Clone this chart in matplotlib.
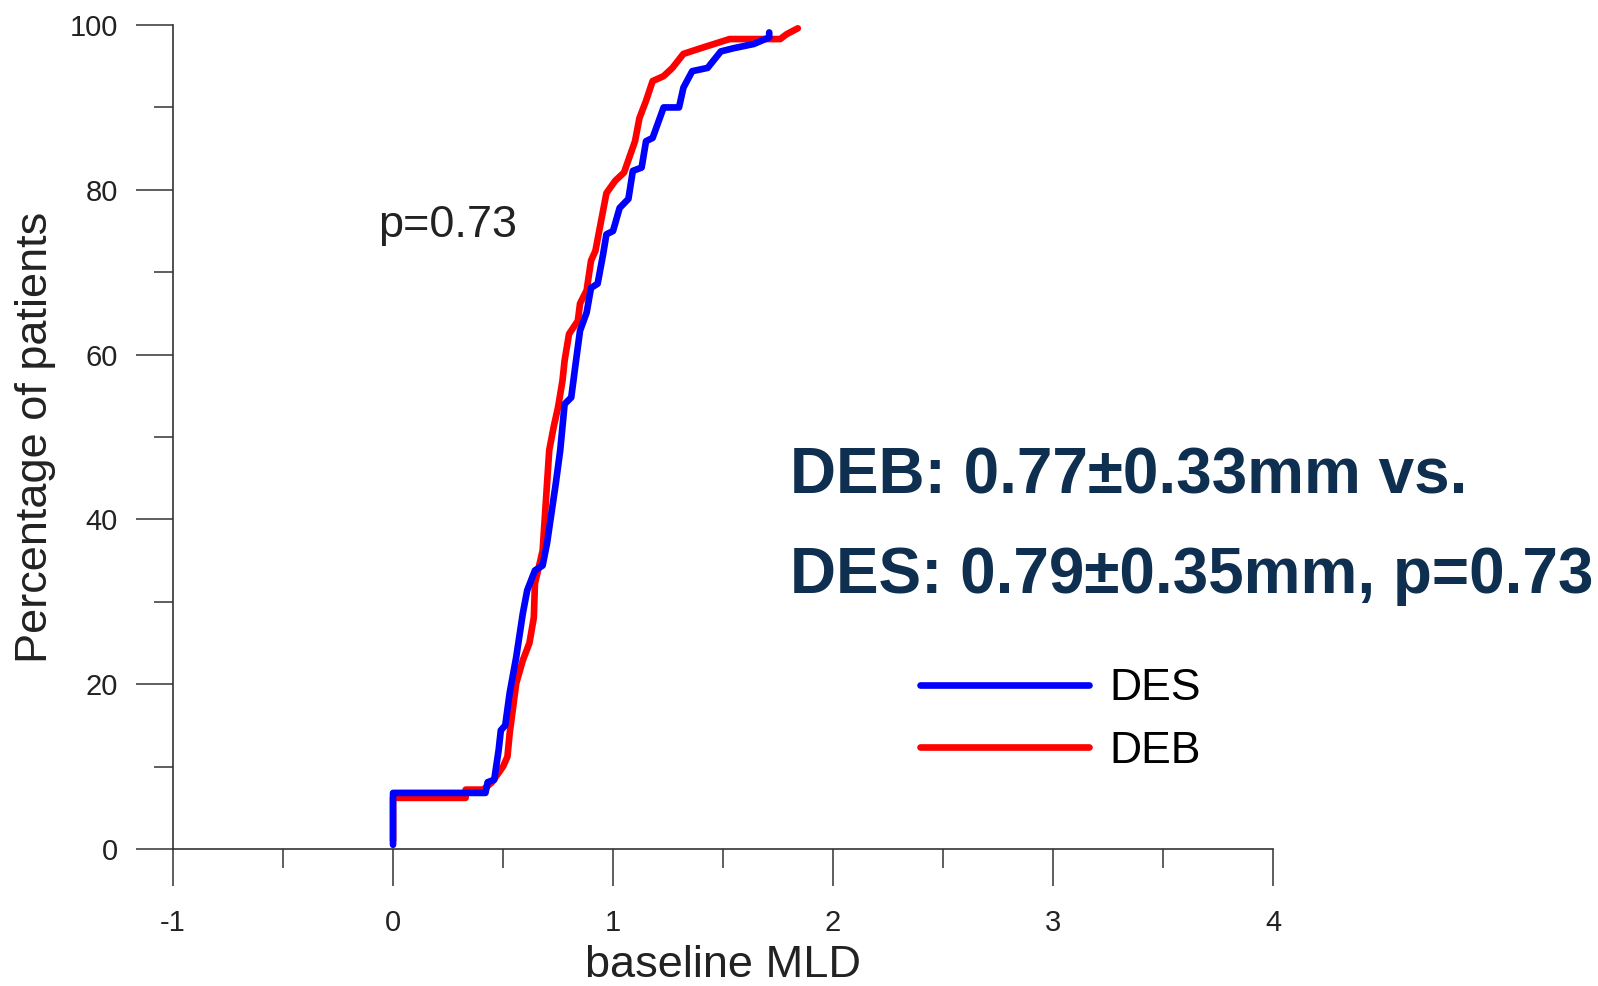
import matplotlib
matplotlib.use("Agg")
import matplotlib.pyplot as plt
from matplotlib.ticker import MultipleLocator

plt.rcParams["font.family"] = ["Liberation Sans", "DejaVu Sans"]
plt.rcParams["axes.unicode_minus"] = False

# -------- Data (cumulative curves of baseline MLD)
des_x = [0, 0, 0.42, 0.43, 0.46, 0.48, 0.49, 0.51, 0.53, 0.56, 0.59, 0.61, 0.645,
         0.68, 0.70, 0.74, 0.76, 0.78, 0.81, 0.83, 0.85, 0.88, 0.90, 0.93, 0.955,
         0.97, 1.00, 1.03, 1.07, 1.09, 1.13, 1.15, 1.18, 1.23, 1.30, 1.32, 1.36,
         1.43, 1.49, 1.55, 1.64, 1.71, 1.71]
des_y = [0.5, 6.8, 6.8, 8.1, 8.4, 12, 14.4, 15, 18.9, 23.3, 28.6, 31.4, 33.8,
         34.4, 37.1, 44.4, 48.4, 54, 54.8, 58.9, 62.9, 65.1, 68.1, 68.6, 72.2,
         74.6, 75, 77.8, 78.9, 82.3, 82.7, 85.9, 86.3, 90, 90, 92.4, 94.4,
         94.8, 96.8, 97.2, 97.7, 98.5, 99.1]

deb_x = [0, 0, 0.33, 0.33, 0.41, 0.45, 0.50, 0.52, 0.53, 0.56, 0.59, 0.62, 0.64,
         0.645, 0.68, 0.71, 0.73, 0.75, 0.77, 0.78, 0.80, 0.84, 0.85, 0.88, 0.90,
         0.92, 0.94, 0.97, 1.01, 1.05, 1.10, 1.12, 1.15, 1.18, 1.23, 1.27, 1.32,
         1.40, 1.53, 1.76, 1.79, 1.84]
deb_y = [1, 6.2, 6.2, 7.2, 7.2, 8.1, 10, 11.2, 14, 20.1, 22.9, 25, 28.1,
         32.2, 36.2, 48.4, 51.2, 53.6, 56.8, 59.3, 62.5, 64.1, 66.2, 67.8, 71.4,
         72.6, 75.4, 79.6, 81.1, 82.1, 85.9, 88.7, 90.8, 93.2, 93.8, 94.8, 96.5,
         97.2, 98.3, 98.3, 98.9, 99.6]

summary_lines = ["DEB: 0.77\u00b10.33mm vs.", "DES: 0.79\u00b10.35mm, p=0.73"]

fig = plt.figure(figsize=(15.98, 9.86), dpi=100)
ax = fig.add_axes([0.1083, 0.139, 0.6883, 0.8356])

ax.plot(deb_x, deb_y, color="#ff0000", lw=4.8, solid_capstyle="round",
        solid_joinstyle="round", label="DEB")
ax.plot(des_x, des_y, color="#0000ff", lw=4.8, solid_capstyle="round",
        solid_joinstyle="round", label="DES")

ax.set_xlim(-1, 4)
ax.set_ylim(0, 100)
ax.xaxis.set_major_locator(MultipleLocator(1))
ax.xaxis.set_minor_locator(MultipleLocator(0.5))
ax.yaxis.set_major_locator(MultipleLocator(20))
ax.yaxis.set_minor_locator(MultipleLocator(10))

for s in ["top", "right"]:
    ax.spines[s].set_visible(False)
for s in ["left", "bottom"]:
    ax.spines[s].set_color("#333333")
    ax.spines[s].set_linewidth(1.2)

ax.tick_params(which="major", direction="out", length=26.6, width=1.1,
               color="#333333", labelsize=21, labelcolor="#222222", pad=13)
ax.tick_params(axis="x", which="major", pad=16.5)
ax.tick_params(which="minor", direction="out", length=13.7, width=1.1,
               color="#333333")

ax.set_xlabel("baseline MLD", fontsize=32.5, color="#222222", labelpad=6)
ax.set_ylabel("Percentage of patients", fontsize=32.5, color="#222222", labelpad=10)

ax.text(-0.07, 75.7, "p=0.73", fontsize=32.5, color="#222222",
        ha="left", va="center")

handles, labels = ax.get_legend_handles_labels()
ax.legend(handles[::-1], labels[::-1], loc="center left",
          bbox_to_anchor=(920 / 1598, 1 - 720 / 986),
          bbox_transform=fig.transFigure, frameon=False, fontsize=32,
          handlelength=3.8, handletextpad=0.45, labelspacing=0.475,
          borderpad=0, borderaxespad=0)

fig.text(790 / 1598, 1 - 476 / 986, summary_lines[0], fontsize=46,
         fontweight="bold", color="#0e2f4f", ha="left", va="center")
fig.text(790 / 1598, 1 - 576 / 986, summary_lines[1], fontsize=46,
         fontweight="bold", color="#0e2f4f", ha="left", va="center")

fig.savefig("out.png", dpi=100)
